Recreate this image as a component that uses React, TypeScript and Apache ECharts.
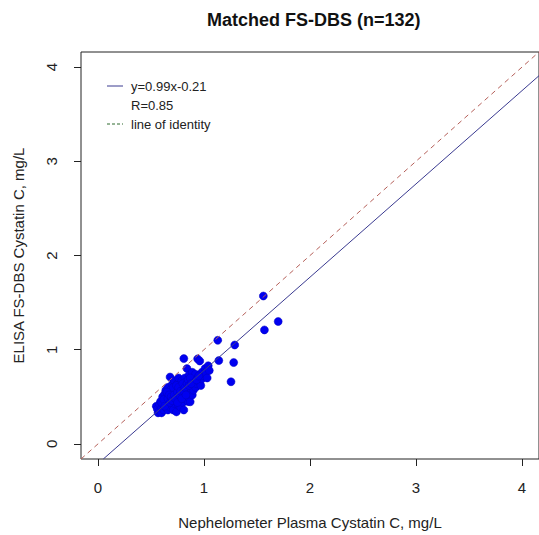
import React, { useEffect, useRef } from "react";
import * as echarts from "echarts";

const TITLE = "Matched FS-DBS (n=132)";
const X_NAME = "Nephelometer Plasma Cystatin C, mg/L";
const Y_NAME = "ELISA FS-DBS Cystatin C, mg/L";
const TICKS = [0, 1, 2, 3, 4];
const AXIS_MIN = -0.16;
const AXIS_MAX = 4.16;
const SLOPE = 0.99;
const INTERCEPT = -0.21;
const LEGEND_TEXTS = ["y=0.99x-0.21", "R=0.85", "line of identity"];

// nephelometer plasma (x) values
const plasma = [
  0.55, 0.567, 0.56, 0.58, 0.58, 0.59, 0.6, 0.6, 0.61, 0.62, 0.62, 0.63, 0.63,
  0.64, 0.64, 0.65, 0.65, 0.66, 0.66, 0.67, 0.67, 0.68, 0.68, 0.68, 0.69, 0.69, 0.7, 0.7, 0.7, 0.71, 0.71, 0.72, 0.72, 0.72,
  0.73, 0.73, 0.74, 0.74, 0.74, 0.75, 0.75, 0.76, 0.76, 0.76, 0.77, 0.77, 0.78, 0.78, 0.78, 0.79, 0.79, 0.8, 0.8, 0.8, 0.81, 0.81, 0.81,
  0.82, 0.82, 0.83, 0.83, 0.84, 0.84, 0.85, 0.85, 0.86, 0.86, 0.87, 0.87, 0.88, 0.88, 0.89, 0.89, 0.9, 0.9, 0.91, 0.91, 0.92, 0.92,
  0.93, 0.94, 0.94, 0.95, 0.96, 0.96, 0.97, 0.98, 0.98, 1.0, 1.01, 1.02, 1.04, 1.03, 1.05,
  1.56, 1.7, 1.57, 1.29, 1.13, 1.14, 1.28, 1.255,
  0.6, 0.62, 0.63, 0.65, 0.66, 0.67, 0.68, 0.69, 0.7, 0.71, 0.72, 0.73, 0.74, 0.75, 0.75,
  0.76, 0.77, 0.78, 0.79, 0.8, 0.81, 0.82, 0.83, 0.84, 0.85, 0.86, 0.87, 0.88, 0.93, 0.95,
];
// ELISA FS-DBS (y) values
const dbs = [
  0.4, 0.33, 0.37, 0.35, 0.42, 0.45, 0.38, 0.33, 0.5, 0.41, 0.36, 0.46, 0.53,
  0.39, 0.57, 0.44, 0.5, 0.36, 0.6, 0.42, 0.47, 0.71, 0.53, 0.39, 0.45, 0.58, 0.5, 0.63, 0.41, 0.55, 0.36, 0.47, 0.67, 0.43,
  0.52, 0.6, 0.34, 0.45, 0.56, 0.49, 0.64, 0.41, 0.53, 0.7, 0.46, 0.58, 0.5, 0.62, 0.39, 0.55, 0.67, 0.44, 0.59, 0.52, 0.36, 0.906, 0.63,
  0.48, 0.7, 0.56, 0.66, 0.8, 0.51, 0.6, 0.45, 0.73, 0.55, 0.447, 0.64, 0.58, 0.68, 0.52, 0.76, 0.62, 0.57, 0.7, 0.66, 0.6, 0.74,
  0.64, 0.903, 0.7, 0.67, 0.88, 0.73, 0.62, 0.76, 0.69, 0.72, 0.8, 0.76, 0.83, 0.7, 0.78,
  1.57, 1.3, 1.21, 1.05, 1.1, 0.885, 0.864, 0.66,
  0.44, 0.47, 0.4, 0.55, 0.48, 0.52, 0.44, 0.5, 0.46, 0.6, 0.52, 0.48, 0.62, 0.55, 0.44,
  0.6, 0.52, 0.56, 0.48, 0.64, 0.56, 0.6, 0.52, 0.64, 0.68, 0.62, 0.7, 0.64, 0.68, 0.72,
];

const FONT = "Liberation Sans, Arial, sans-serif";

export default function App() {
  const ref = useRef<HTMLDivElement>(null);
  useEffect(() => {
    if (!ref.current) return;
    const chart = echarts.init(ref.current, undefined, { renderer: "svg" });
    const points = plasma.map((x, i) => [x, dbs[i]]);
    const xStart = (AXIS_MIN - INTERCEPT) / SLOPE;
    const fitLine = [
      [xStart, SLOPE * xStart + INTERCEPT],
      [AXIS_MAX, SLOPE * AXIS_MAX + INTERCEPT],
    ];
    const identity = [
      [AXIS_MIN, AXIS_MIN],
      [AXIS_MAX, AXIS_MAX],
    ];
    const axisCommon = {
      min: AXIS_MIN,
      max: AXIS_MAX,
      splitLine: { show: false },
      axisLine: { show: false, onZero: false },
      axisTick: {
        show: true,
        inside: false,
        length: 7,
        customValues: TICKS,
        lineStyle: { color: "#222", width: 1 },
      },
      nameLocation: "middle" as const,
      nameTextStyle: { fontFamily: FONT, fontSize: 15, color: "#222" },
    };
    chart.setOption({
      animation: false,
      backgroundColor: "#fff",
      textStyle: { fontFamily: FONT },
      title: {
        text: TITLE,
        left: 202,
        top: 6,
        textStyle: { fontFamily: FONT, fontSize: 18, fontWeight: "bold", color: "#111" },
      },
      grid: {
        left: 81,
        top: 52,
        width: 462,
        height: 407,
        show: true,
        borderColor: "#222",
        borderWidth: 1,
        backgroundColor: "transparent",
      },
      xAxis: {
        ...axisCommon,
        type: "value",
        name: X_NAME,
        nameGap: 56,
        axisLabel: {
          customValues: TICKS,
          margin: 21,
          fontFamily: FONT,
          fontSize: 15,
          color: "#222",
        },
      },
      yAxis: {
        ...axisCommon,
        type: "value",
        name: Y_NAME,
        nameGap: 55,
        axisLabel: {
          customValues: TICKS,
          margin: 22,
          rotate: 90,
          fontFamily: FONT,
          fontSize: 15,
          color: "#222",
        },
      },
      series: [
        {
          type: "line",
          data: identity,
          symbol: "none",
          silent: true,
          clip: true,
          lineStyle: { color: "#b5605a", width: 1, type: [5, 4] },
        },
        {
          type: "line",
          data: fitLine,
          symbol: "none",
          silent: true,
          clip: true,
          lineStyle: { color: "#3a3a90", width: 1 },
        },
        {
          type: "scatter",
          data: points,
          symbol: "circle",
          symbolSize: 8,
          itemStyle: { color: "#0000f0", borderColor: "#0000c0", borderWidth: 0.5, opacity: 1 },
        },
      ],
      graphic: [
        { type: "line", shape: { x1: 107, y1: 86, x2: 123, y2: 86 }, style: { stroke: "#3a3a90", lineWidth: 1 } },
        { type: "line", shape: { x1: 107, y1: 124, x2: 123, y2: 124 }, style: { stroke: "#2e6b2e", lineWidth: 1, lineDash: [3, 2] } },
        { type: "text", x: 131, y: 86, style: { text: LEGEND_TEXTS[0], font: `13px ${FONT}`, fill: "#222", verticalAlign: "middle" } },
        { type: "text", x: 131, y: 105, style: { text: LEGEND_TEXTS[1], font: `13px ${FONT}`, fill: "#222", verticalAlign: "middle" } },
        { type: "text", x: 131, y: 124, style: { text: LEGEND_TEXTS[2], font: `13px ${FONT}`, fill: "#222", verticalAlign: "middle" } },
      ],
    });
    return () => chart.dispose();
  }, []);
  return (
    <div
      ref={ref}
      style={{ position: "absolute", left: 0, top: 0, width: 539, height: 535, overflow: "hidden" }}
    />
  );
}
